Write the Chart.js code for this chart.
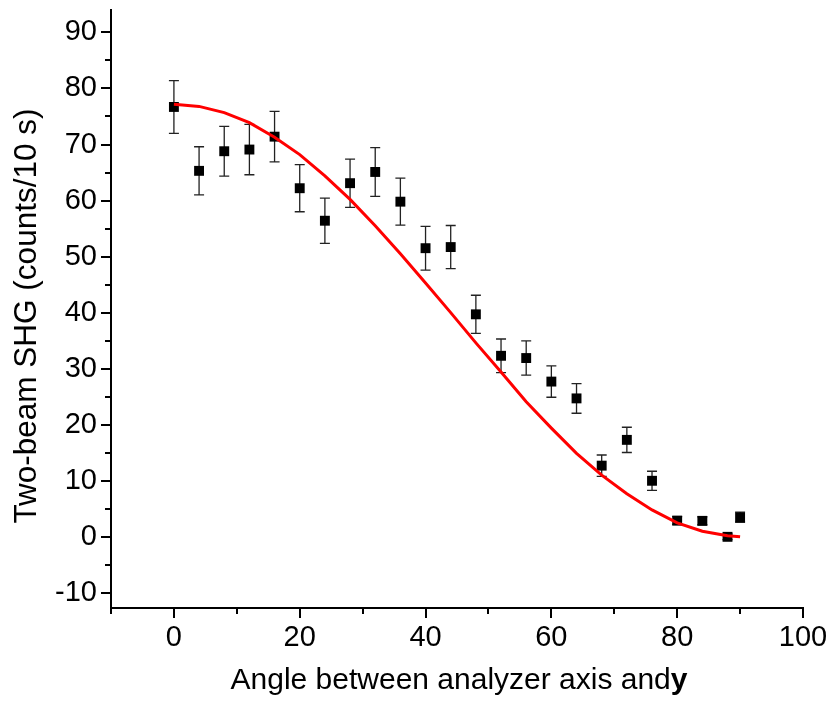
<!DOCTYPE html>
<html>
<head>
<meta charset="utf-8">
<script src="https://cdn.jsdelivr.net/npm/chart.js@4/dist/chart.umd.min.js"></script>
<style>
html,body{margin:0;padding:0;background:#fff;}
#wrap{width:839px;height:702px;}
</style>
</head>
<body>
<div id="wrap"><canvas id="c" width="839" height="702"></canvas></div>
<script>
const angles = [0,4,8,12,16,20,24,28,32,36,40,44,48,52,56,60,64,68,72,76,80,84,88,90];
const shg    = [76.7,65.3,68.8,69.1,71.4,62.2,56.4,63.1,65.1,59.8,51.5,51.7,39.7,32.3,31.9,27.7,24.7,12.7,17.3,10.0,2.9,2.85,0.0,3.5];
const shgErr = [4.7,4.3,4.45,4.5,4.5,4.2,4.05,4.3,4.35,4.2,3.9,3.85,3.4,3.0,3.05,2.8,2.65,1.9,2.25,1.7,0.7,0.7,0.5,0.9];
const fitVals = [77.2,76.8,75.7,73.9,71.3,68.2,64.4,60.2,55.5,50.5,45.3,40.0,34.6,29.4,24.1,19.4,14.9,11.0,7.7,4.8,2.5,1.0,0.2,0.0];
const xMajorTicks = [0,20,40,60,80,100];
const xMinorTicks = [-10,10,30,50,70,90];
const yMajorTicks = [-10,0,10,20,30,40,50,60,70,80,90];
const yMinorTicks = [-5,5,15,25,35,45,55,65,75,85];
const xTitle = "Angle between analyzer axis and";
const xTitleBold = "y";
const yTitle = "Two-beam SHG (counts/10 s)";

const FONT = "'Liberation Sans', Arial, Helvetica, sans-serif";

const errorBars = {
  id: 'errorBars',
  beforeDatasetsDraw(chart) {
    const ctx = chart.ctx, xs = chart.scales.x, ys = chart.scales.y;
    ctx.save();
    ctx.strokeStyle = '#222';
    ctx.lineWidth = 1.3;
    for (let i = 0; i < angles.length; i++) {
      const px = xs.getPixelForValue(angles[i]);
      const top = ys.getPixelForValue(shg[i] + shgErr[i]);
      const bot = ys.getPixelForValue(shg[i] - shgErr[i]);
      ctx.beginPath();
      ctx.moveTo(px, top); ctx.lineTo(px, bot);
      ctx.moveTo(px - 5, top); ctx.lineTo(px + 5, top);
      ctx.moveTo(px - 5, bot); ctx.lineTo(px + 5, bot);
      ctx.stroke();
    }
    ctx.restore();
  }
};

const axisDecor = {
  id: 'axisDecor',
  afterDraw(chart) {
    const ctx = chart.ctx, xs = chart.scales.x, ys = chart.scales.y, a = chart.chartArea;
    ctx.save();
    ctx.strokeStyle = '#000';
    ctx.lineWidth = 2;
    ctx.beginPath();
    yMajorTicks.forEach(v => { const p = Math.round(ys.getPixelForValue(v)); ctx.moveTo(a.left, p); ctx.lineTo(a.left - 10, p); });
    yMinorTicks.forEach(v => { const p = Math.round(ys.getPixelForValue(v)); ctx.moveTo(a.left, p); ctx.lineTo(a.left - 6, p); });
    xMajorTicks.forEach(v => { const p = Math.round(xs.getPixelForValue(v)); ctx.moveTo(p, a.bottom); ctx.lineTo(p, a.bottom + 10); });
    xMinorTicks.forEach(v => { const p = Math.round(xs.getPixelForValue(v)); ctx.moveTo(p, a.bottom); ctx.lineTo(p, a.bottom + 6); });
    ctx.stroke();

    ctx.fillStyle = '#000';
    ctx.textBaseline = 'alphabetic';
    ctx.font = "30px " + FONT;
    const w1 = ctx.measureText(xTitle).width;
    ctx.font = "bold 30px " + FONT;
    const w2 = ctx.measureText(xTitleBold).width;
    const cx = (a.left + a.right) / 2;
    let sx = cx - (w1 + w2) / 2 + 2;
    ctx.textAlign = 'left';
    ctx.font = "30px " + FONT;
    ctx.fillText(xTitle, sx, 689);
    ctx.font = "bold 30px " + FONT;
    ctx.fillText(xTitleBold, sx + w1, 689);

    ctx.save();
    ctx.translate(36, 316);
    ctx.rotate(-Math.PI / 2);
    ctx.textAlign = 'center';
    ctx.font = "31.5px " + FONT;
    ctx.fillText(yTitle, 0, 0);
    ctx.restore();
    ctx.restore();
  }
};

new Chart(document.getElementById('c'), {
  type: 'scatter',
  data: {
    datasets: [
      {
        type: 'line',
        label: 'fit',
        data: angles.map((x, i) => ({x: x, y: fitVals[i]})),
        borderColor: '#ff0000',
        borderWidth: 3,
        pointRadius: 0,
        fill: false,
        tension: 0,
        order: 0
      },
      {
        label: 'data',
        data: angles.map((x, i) => ({x: x, y: shg[i]})),
        pointStyle: 'rect',
        pointRadius: 7,
        backgroundColor: '#000',
        borderWidth: 0,
        order: 1
      }
    ]
  },
  options: {
    responsive: false,
    animation: false,
    devicePixelRatio: 1,
    layout: { padding: { left: 0, top: 10, right: 36, bottom: 0 } },
    plugins: { legend: { display: false }, tooltip: { enabled: false } },
    scales: {
      x: {
        type: 'linear',
        min: -10, max: 100,
        grid: { display: false, drawTicks: false, tickLength: 0 },
        border: { display: true, color: '#000', width: 2 },
        afterBuildTicks: s => { s.ticks = xMajorTicks.map(v => ({value: v})); },
        afterFit: s => { s.height = 94; s.paddingLeft = 0; s.paddingRight = 0; },
        ticks: { color: '#000', font: { family: FONT, size: 29 }, padding: 13, maxRotation: 0, autoSkip: false }
      },
      y: {
        type: 'linear',
        min: -12.7, max: 94,
        grid: { display: false, drawTicks: false, tickLength: 0 },
        border: { display: true, color: '#000', width: 2 },
        afterBuildTicks: s => { s.ticks = yMajorTicks.map(v => ({value: v})); },
        afterFit: s => { s.width = 111; s.paddingTop = 0; s.paddingBottom = 0; },
        ticks: { color: '#000', font: { family: FONT, size: 29 }, padding: 14, autoSkip: false }
      }
    }
  },
  plugins: [errorBars, axisDecor]
});
</script>
</body>
</html>
